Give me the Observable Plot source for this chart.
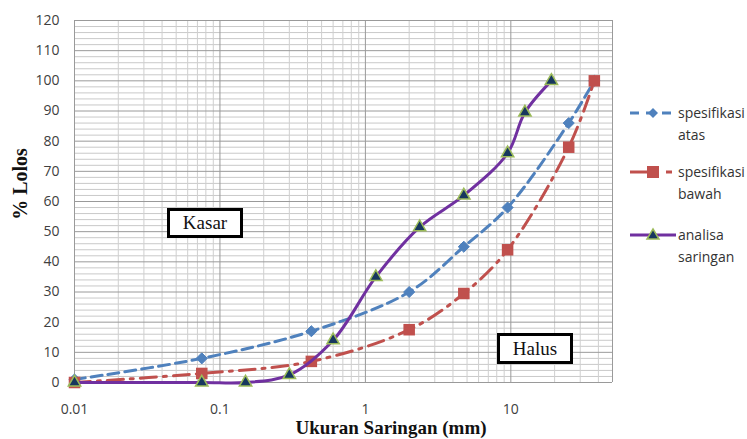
<!DOCTYPE html>
<html>
<head>
<meta charset="utf-8">
<script src="https://cdn.jsdelivr.net/npm/d3@7"></script>
<script src="https://cdn.jsdelivr.net/npm/@observablehq/plot@0.6"></script>
<style>
  html, body { margin: 0; padding: 0; background: #fff; }
  #wrap { position: relative; width: 747px; height: 439px; overflow: hidden; }
  .ttl { position: absolute; font-family: "Liberation Serif", "DejaVu Serif", serif; font-weight: bold; color: #111; white-space: nowrap; }
  .box { position: absolute; box-sizing: border-box; border: 3px solid #000; background: #fff;
         font-family: "Liberation Serif", serif; font-size: 19px; color: #111;
         display: flex; align-items: center; justify-content: center; }
  .leg { position: absolute; font-family: "Open Sans", "Liberation Sans", sans-serif; font-size: 14px; color: #333; line-height: 22px; }
  .legsym { position: absolute; }
</style>
</head>
<body>
<div id="wrap"></div>
<script>
// ---- data ----
const atasSize  = [0.01, 0.075, 0.425, 2, 4.75, 9.5, 25, 37.5];
const atasPass  = [1, 8, 17, 30, 45, 58, 86, 100];
const bawahSize = [0.01, 0.075, 0.425, 2, 4.75, 9.5, 25, 37.5];
const bawahPass = [0, 3, 7, 17.5, 29.5, 44, 78, 100];
const analisaSize = [0.01, 0.075, 0.15, 0.3, 0.6, 1.18, 2.36, 4.75, 9.5, 12.5, 19];
const analisaPass = [0, 0, 0, 2.5, 14, 35, 51.5, 62, 76, 89.5, 100];
const xTicks = [0.01, 0.1, 1, 10];
const xTickLabels = ["0.01", "0.1", "1", "10"];
const yTicks = [0, 10, 20, 30, 40, 50, 60, 70, 80, 90, 100, 110, 120];
const seriesNames = ["spesifikasi atas", "spesifikasi bawah", "analisa saringan"];
const labelKasar = "Kasar";
const labelHalus = "Halus";
const xTitle = "Ukuran Saringan (mm)";
const yTitle = "% Lolos";

const colAtas = "#4F81BD", colBawah = "#C0504D", colAnalisa = "#7030A0";
const triFill = "#17375E", triStroke = "#9BBB59";

const atas = atasSize.map((s, i) => ({size: s, pass: atasPass[i]}));
const bawah = bawahSize.map((s, i) => ({size: s, pass: bawahPass[i]}));
const analisa = analisaSize.map((s, i) => ({size: s, pass: analisaPass[i]}));

// grid positions
const xMinor = [];
[0.01, 0.1, 1, 10].forEach(d => { for (let k = 2; k <= 9; k++) { const v = d * k; if (v <= 50) xMinor.push(v); } });
const xMajor = [0.01, 0.1, 1, 10, 50];
const yMinor = d3.range(0, 121, 2).filter(v => v % 10 !== 0);

const plot = Plot.plot({
  width: 747, height: 439,
  marginLeft: 74, marginRight: 135, marginTop: 20, marginBottom: 57,
  style: {fontFamily: "Open Sans, Liberation Sans, sans-serif", fontSize: "14px", background: "transparent"},
  x: {type: "log", domain: [0.01, 50]},
  y: {domain: [0, 120]},
  marks: [
    Plot.ruleY(yMinor, {stroke: "#c9c9c9", strokeWidth: 1}),
    Plot.ruleX(xMinor, {stroke: "#cfcfcf", strokeWidth: 1}),
    Plot.ruleY(yTicks, {stroke: "#9a9a9a", strokeWidth: 1}),
    Plot.ruleX(xMajor, {stroke: "#9a9a9a", strokeWidth: 1}),
    Plot.axisX(xTicks, {tickSize: 0, tickPadding: 22, tickFormat: (d) => xTickLabels[xTicks.indexOf(d)], fill: "#404040", label: null}),
    Plot.axisY(yTicks, {tickSize: 0, tickPadding: 15, fill: "#404040", label: null}),
    Plot.line(atas, {x: "size", y: "pass", stroke: colAtas, strokeWidth: 3, strokeDasharray: "11,6", curve: "catmull-rom"}),
    Plot.dot(atas, {x: "size", y: "pass", symbol: "diamond2", r: 5, fill: colAtas, stroke: colAtas, strokeWidth: 1}),
    Plot.line(bawah, {x: "size", y: "pass", stroke: colBawah, strokeWidth: 3, strokeDasharray: "16,7,3,7", curve: "catmull-rom"}),
    Plot.dot(bawah, {x: "size", y: "pass", symbol: "square", r: 6.5, fill: colBawah, stroke: colBawah, strokeWidth: 0}),
    Plot.line(analisa, {x: "size", y: "pass", stroke: colAnalisa, strokeWidth: 3, curve: "catmull-rom"}),
    Plot.dot(analisa, {x: "size", y: "pass", symbol: "triangle", r: 4.6, fill: triFill, stroke: triStroke, strokeWidth: 1.5})
  ]
});

const wrap = document.getElementById("wrap");
wrap.appendChild(plot);

function add(html) { wrap.insertAdjacentHTML("beforeend", html); }

// axis titles
add(`<div class="ttl" style="left:0;width:782px;text-align:center;top:417px;font-size:19px;line-height:22px;">${xTitle}</div>`);
add(`<div class="ttl" style="left:20px;top:184px;font-size:20px;line-height:22px;transform:translate(-50%,-50%) rotate(-90deg);">${yTitle}</div>`);

// annotation boxes
add(`<div class="box" style="left:167px;top:208px;width:76px;height:30px;">${labelKasar}</div>`);
add(`<div class="box" style="left:497px;top:333px;width:76px;height:31px;">${labelHalus}</div>`);

// legend
const legY = [113, 172, 235];
const words = [["spesifikasi", "atas"], ["spesifikasi", "bawah"], ["analisa", "saringan"]];
const syms = [
  `<svg width="50" height="16"><line x1="2" y1="8" x2="48" y2="8" stroke="${colAtas}" stroke-width="3" stroke-dasharray="9,7"/><path d="M25,3 L30,8 L25,13 L20,8 Z" fill="${colAtas}"/></svg>`,
  `<svg width="50" height="16"><line x1="2" y1="8" x2="25" y2="8" stroke="${colBawah}" stroke-width="3"/><line x1="34" y1="8" x2="48" y2="8" stroke="${colBawah}" stroke-width="3" stroke-dasharray="0,4,6,4"/><rect x="19" y="2" width="12" height="12" fill="${colBawah}"/></svg>`,
  `<svg width="50" height="16"><line x1="2" y1="8" x2="48" y2="8" stroke="${colAnalisa}" stroke-width="3"/><path d="M25,2 L31,12 L19,12 Z" fill="${triFill}" stroke="${triStroke}" stroke-width="1.5"/></svg>`
];
legY.forEach((y, i) => {
  add(`<div class="legsym" style="left:628px;top:${y - 8}px;">${syms[i]}</div>`);
  add(`<div class="leg" style="left:678px;top:${y - 11}px;">${words[i][0]}<br>${words[i][1]}</div>`);
});
</script>
</body>
</html>
